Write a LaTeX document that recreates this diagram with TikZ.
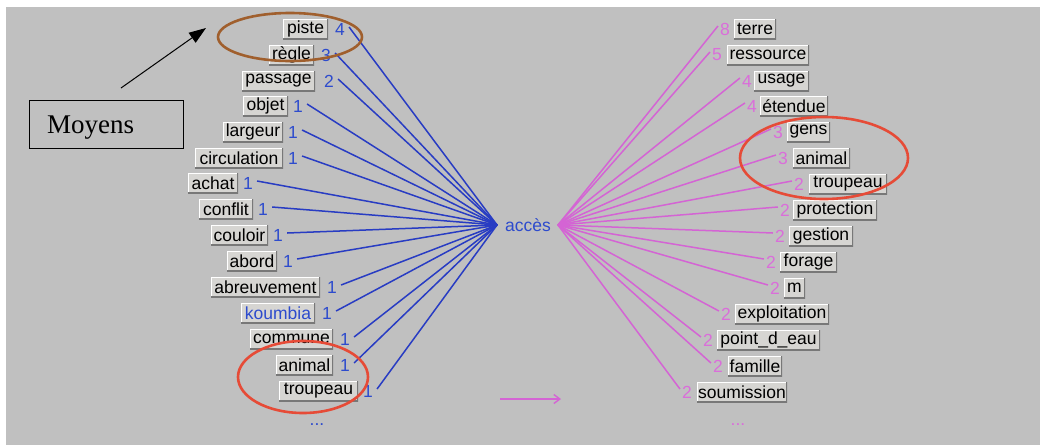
\documentclass[tikz,border=0pt]{standalone}
\usepackage{fontspec}
\setmainfont{Liberation Sans}
\newfontfamily\moyfont{Liberation Serif}
\usetikzlibrary{arrows.meta}
\definecolor{bg}{RGB}{192,192,192}
\definecolor{boxfill}{RGB}{214,213,210}
\definecolor{shadowc}{RGB}{120,120,120}
\definecolor{blueL}{RGB}{40,60,195}
\definecolor{blueN}{RGB}{45,75,205}
\definecolor{pinkL}{RGB}{212,100,212}
\definecolor{pinkN}{RGB}{218,110,218}
\definecolor{brownE}{RGB}{160,95,45}
\definecolor{redE}{RGB}{230,75,55}
\newcommand\labfont{\fontsize{17.5}{20}\selectfont}
\tikzset{
  lbl/.style={fill=boxfill, minimum height=20pt, inner sep=0pt, font=\labfont, text=black,
    path picture={
      \draw[white, line width=2.4pt] (path picture bounding box.south west) |- (path picture bounding box.north east);
      \draw[shadowc, line width=2.4pt] (path picture bounding box.south west) -| (path picture bounding box.north east);
    }},
  numB/.style={font=\labfont, text=blueN, inner sep=1pt},
  numP/.style={font=\labfont, text=pinkN, inner sep=1pt},
  linkB/.style={blueL, line width=1.5pt},
  linkP/.style={pinkL, line width=1.5pt},
  circ/.style={line width=2.6pt}
}
\begin{document}
\begin{tikzpicture}[x=1pt,y=-1pt]
\useasboundingbox (0,0) rectangle (1040,445);
\fill[white] (0,0) rectangle (1040,445);
\fill[bg] (6,7) rectangle (1040,445);

% centre
\node[font=\labfont, text=blueN, inner sep=0pt] (acc) at (528,225) {accès};
\coordinate (cl) at (497,225);
\coordinate (cr) at (558,225);

% left side
\foreach \t/\l/\r/\y/\n/\nx/\c [count=\i] in {
  piste/283/328/29/4/340/black,
  règle/269/314/55/3/326/black,
  passage/242/315/81/2/329/black,
  objet/243/288/106/1/298/black,
  largeur/223/283/132/1/293/black,
  circulation/195/283/158/1/293/black,
  achat/188/238/183/1/248/black,
  conflit/199/253/209/1/263/black,
  couloir/211/268/235/1/278/black,
  abord/227/277/261/1/288/black,
  abreuvement/211/320/287/1/332/black,
  koumbia/241/315/313/1/327/blueN,
  commune/250/333/339/1/345/black,
  animal/276/333/365/1/345/black,
  troupeau/279/358/391/1/368/black}{
  \pgfmathsetmacro\w{\r-\l}
  \node[lbl, minimum width=\w pt, text=\c] (L\i) at ({(\l+\r)/2},\y) {\t};
  \node[numB] (nL\i) at (\nx,\y) {\n};
  \draw[linkB] ([xshift=3pt,yshift=2pt]nL\i.east) -- (cl);
}

% right side
\foreach \t/\l/\r/\y/\n/\nx [count=\i] in {
  terre/734/776/29/8/725,
  ressource/727/809/55/5/717,
  usage/754/809/81/4/747,
  étendue/760/828/106/4/752,
  gens/787/830/132/3/778,
  animal/793/850/158/3/783,
  troupeau/809/887/184/2/799,
  protection/793/877/210/2/785,
  gestion/789/853/236/2/780,
  forage/780/837/262/2/771,
  m/784/805/288/2/775,
  exploitation/735/829/314/2/726,
  point\_d\_eau/717/820/340/2/708,
  famille/728/782/366/2/718,
  soumission/697/787/392/2/687}{
  \pgfmathsetmacro\w{\r-\l}
  \node[lbl, minimum width=\w pt] (R\i) at ({(\l+\r)/2},\y) {\t};
  \node[numP] (nR\i) at (\nx,\y) {\n};
  \draw[linkP] (cr) -- ([xshift=-1pt,yshift=3pt]nR\i.west);
}

% ellipsis
\node[font=\labfont, text=blueN, inner sep=0pt, anchor=base] (dotsL) at (317,425) {...};
\node[font=\labfont, text=pinkN, inner sep=0pt, anchor=base] (dotsR) at (738,425) {...};

% bottom arrow
\coordinate (ba) at (500,399);
\coordinate (bb) at (561,399);
\draw[pinkL, line width=1.4pt, -{Straight Barb[length=6pt,width=9pt]}] (ba) -- (bb);

% ellipses
\draw[brownE, circ] (290,37) ellipse [x radius=72pt, y radius=24pt];
\draw[redE, circ] (303,377) ellipse [x radius=65pt, y radius=36pt];
\draw[redE, circ] (824,158) ellipse [x radius=84pt, y radius=41pt];

% Moyens
\node[draw=black, line width=1pt, minimum width=154pt, minimum height=48pt, inner sep=0pt] (moybox) at (106,124) {};
\node[font=\moyfont\fontsize{27}{30}\selectfont, anchor=base west, inner sep=0pt] (moy) at (47,133) {Moyens};
\coordinate (mt) at (121,88);
\coordinate (mh) at (206,28);
\draw[black, line width=1pt, -{Triangle[length=17pt,width=12pt]}] (mt) -- (mh);
\end{tikzpicture}
\end{document}
